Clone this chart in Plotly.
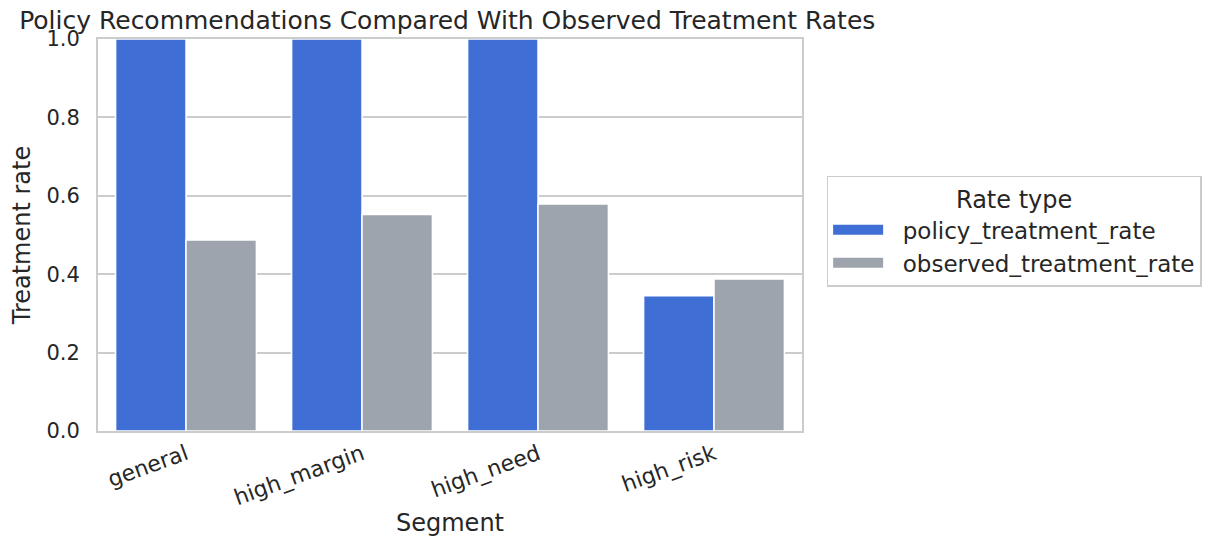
import plotly.graph_objects as go

segments = ["general", "high_margin", "high_need", "high_risk"]
policy_rate = [1.0, 1.0, 1.0, 0.345]
observed_rate = [0.487, 0.552, 0.579, 0.388]

FONT = "DejaVu Sans"
TXT = "#262626"
GRID = "#cccccc"
BLUE = "#3f6ed5"
GREY = "#9ea4ae"
PAD = "\u00a0\u00a0"

fig = go.Figure()
fig.add_trace(go.Bar(x=segments, y=policy_rate, name="policy_treatment_rate", showlegend=False,
                     marker=dict(color=BLUE, line=dict(color="white", width=1.5))))
fig.add_trace(go.Bar(x=segments, y=observed_rate, name="observed_treatment_rate", showlegend=False,
                     marker=dict(color=GREY, line=dict(color="white", width=1.5))))
# wide legend swatches like matplotlib patches
for nm, col in [("policy_treatment_rate", BLUE), ("observed_treatment_rate", GREY)]:
    fig.add_trace(go.Scatter(x=[None], y=[None], mode="lines", name=PAD + nm,
                             line=dict(color=col, width=14)))

fig.update_layout(
    width=1210, height=546,
    margin=dict(l=85, r=416, t=31, b=123),
    paper_bgcolor="white", plot_bgcolor="white",
    font=dict(family=FONT, size=21, color=TXT),
    barmode="group", bargap=0.2, bargroupgap=0,
    title=dict(text="Policy Recommendations Compared With Observed Treatment Rates",
               x=0.363, xanchor="center", y=0.977, yanchor="middle",
               font=dict(size=25, color=TXT)),
    legend=dict(title=dict(text="Rate type", side="top center", font=dict(size=24)),
                font=dict(size=23), x=1.035, xanchor="left", y=0.51, yanchor="middle",
                bordercolor=GRID, borderwidth=1.5, bgcolor="white",
                itemwidth=50, tracegroupgap=4),
)

fig.update_xaxes(
    title=dict(text="Segment", font=dict(size=24), standoff=4),
    tickangle=-20, tickfont=dict(size=22), showgrid=False, showline=True,
    linecolor=GRID, linewidth=2, mirror=True, ticks="", range=[-0.5, 3.5],
)
fig.update_yaxes(
    title=dict(text="Treatment rate", font=dict(size=24), standoff=10),
    range=[0, 1.0], dtick=0.2, tickformat=".1f", ticklabelstandoff=12,
    showgrid=True, gridcolor=GRID, gridwidth=1.5, showline=True, linecolor=GRID,
    linewidth=2, mirror=True, ticks="", zeroline=False,
)

fig.write_html("out.html")
